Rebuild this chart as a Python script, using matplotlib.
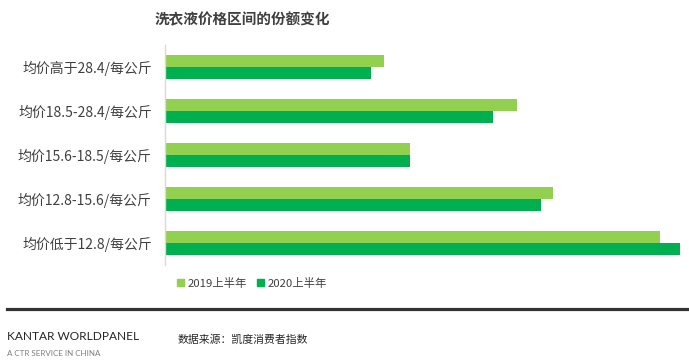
import matplotlib
matplotlib.use("Agg")
import matplotlib.pyplot as plt
from matplotlib.patches import Patch
from matplotlib.lines import Line2D

plt.rcParams['font.family'] = ['Noto Sans CJK SC', 'DejaVu Sans']

categories = ['均价高于28.4/每公斤', '均价18.5-28.4/每公斤', '均价15.6-18.5/每公斤',
              '均价12.8-15.6/每公斤', '均价低于12.8/每公斤']
share_2019 = [12.9, 20.7, 14.4, 22.8, 29.1]
share_2020 = [12.1, 19.3, 14.4, 22.1, 30.3]
series_names = ['2019上半年', '2020上半年']
title = '洗衣液价格区间的份额变化'
source = '数据来源：凯度消费者指数'

c_light = '#92D050'
c_dark = '#00B050'
W, H = 689, 360

fig = plt.figure(figsize=(W/100, H/100), dpi=100)
ax = fig.add_axes([165/W, 95/H, (W-165)/W, 220/H])

y = list(range(len(categories)))
bh = 0.272
ax.barh([v - bh/2 for v in y], share_2019, height=bh, color=c_light, linewidth=0)
ax.barh([v + bh/2 for v in y], share_2020, height=bh, color=c_dark, linewidth=0)
ax.set_ylim(len(categories) - 0.5, -0.5)
ax.set_xlim(0, 524/17)
ax.set_yticks(y)
ax.set_yticklabels(categories, fontsize=10, color='#404040')
ax.tick_params(axis='y', length=0, pad=9.5)
ax.set_xticks([])
for s in ['top', 'right', 'bottom']:
    ax.spines[s].set_visible(False)
ax.spines['left'].set_color('#d9d9d9')
ax.spines['left'].set_linewidth(1.0)

fig.text(242/W, 1 - 19/H, title, fontsize=10.5, fontweight='bold', color='#404040',
         ha='center', va='center')

handles = [Patch(color=c_light, label=series_names[0]), Patch(color=c_dark, label=series_names[1])]
fig.legend(handles=handles, loc='center', bbox_to_anchor=(252/W, 1 - 283/H), ncol=2,
           frameon=False, fontsize=8.2, handlelength=0.6, handleheight=0.6,
           handletextpad=0.3, columnspacing=0.9, labelcolor='#404040')

fig.add_artist(Line2D([7/W, 1], [1 - 309/H, 1 - 309/H], lw=2.3, color='#333333'))

fig.text(7/W, 1 - 336/H, 'KANTAR WORLDPANEL', fontsize=8.6, family=['Lato', 'DejaVu Sans'],
         color='#262626', ha='left', va='center')
fig.text(7/W, 1 - 353/H, 'A CTR SERVICE IN CHINA', fontsize=5.8, family=['Lato', 'DejaVu Sans'],
         color='#7f7f7f', ha='left', va='center')
fig.text(178/W, 1 - 339/H, source, fontsize=7.8, color='#262626', ha='left', va='center')

fig.savefig('out.png', dpi=100)
